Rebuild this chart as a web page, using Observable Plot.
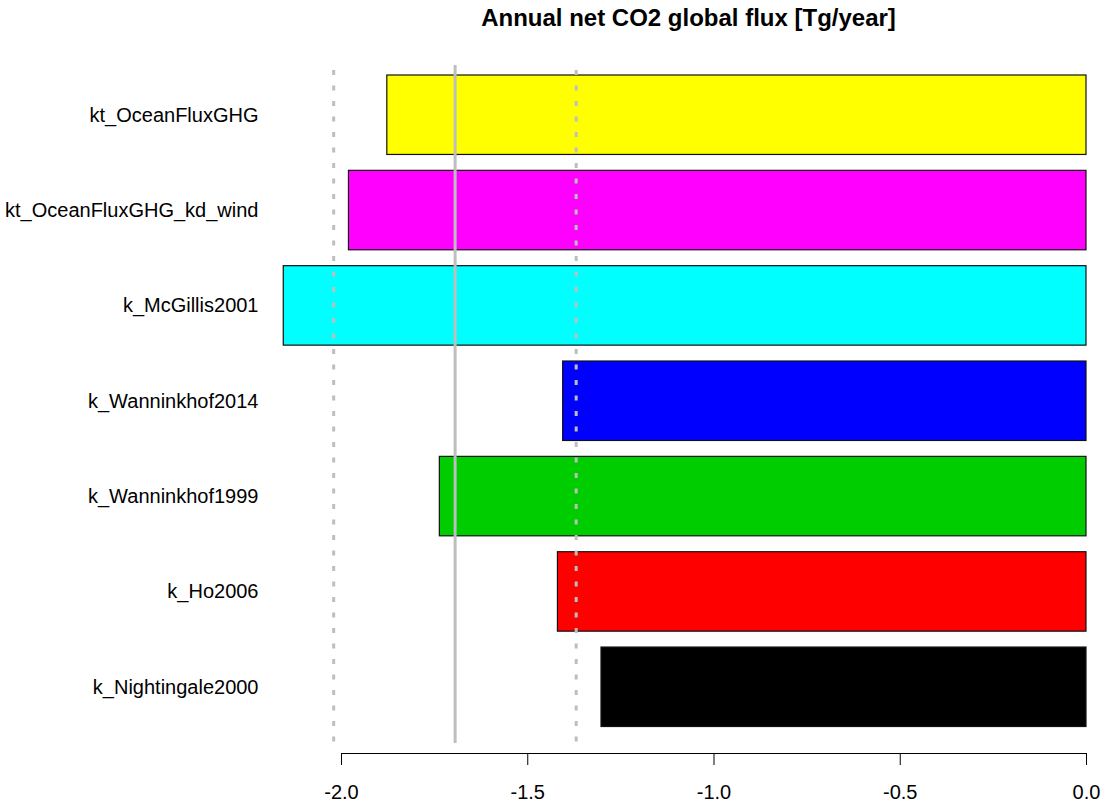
<!DOCTYPE html>
<html><head><meta charset="utf-8">
<script src="https://cdn.jsdelivr.net/npm/d3@7"></script>
<script src="https://cdn.jsdelivr.net/npm/@observablehq/plot@0.6"></script>
<style>
html,body{margin:0;padding:0;background:#fff;}
#wrap{position:relative;width:1105px;height:810px;font-family:"Liberation Sans",Arial,sans-serif;}
#title{position:absolute;left:272px;width:833px;top:6px;text-align:center;font-weight:bold;font-size:24px;line-height:24px;color:#000;}
#chart{position:absolute;left:0;top:0;}
</style></head><body>
<div id="wrap"><div id="chart"></div><div id="title">Annual net CO2 global flux [Tg/year]</div></div>
<script>
const names = ["kt_OceanFluxGHG", "kt_OceanFluxGHG_kd_wind", "k_McGillis2001", "k_Wanninkhof2014", "k_Wanninkhof1999", "k_Ho2006", "k_Nightingale2000"];
const values = [-1.877, -1.980, -2.155, -1.405, -1.736, -1.419, -1.302];
const barColors = ["#FFFF00", "#FF00FF", "#00FFFF", "#0000FF", "#00CD00", "#FF0000", "#000000"];
const meanValue = -1.695;
const sdBounds = [-2.021, -1.370];
const xTicks = [-2, -1.5, -1, -0.5, 0];
const xTickLabels = ["-2.0", "-1.5", "-1.0", "-0.5", "0.0"];

const data = names.map((name, i) => ({name, value: values[i]}));

const chart = Plot.plot({
  width: 1105,
  height: 810,
  marginTop: 65,
  marginBottom: 57,
  marginLeft: 341,
  marginRight: 19,
  style: {fontFamily: "'Liberation Sans', Arial, sans-serif", fontSize: "20px", color: "#000", background: "#fff"},
  x: {domain: [-2, 0], ticks: xTicks, tickFormat: d => xTickLabels[xTicks.indexOf(d)], tickSize: 12, tickPadding: 19, line: true, label: null},
  y: {domain: names, range: [75, 726.5], paddingInner: 1/6, paddingOuter: 0, round: false, tickSize: 0, tickPadding: 83, label: null},
  color: {domain: names, range: barColors},
  marks: [
    Plot.barX(data, {x1: "value", x2: 0, y: "name", fill: "name", stroke: "#111", strokeWidth: 1.2}),
    Plot.ruleX([meanValue], {stroke: "#BEBEBE", strokeWidth: 3, insetBottom: 10}),
    Plot.ruleX(sdBounds, {stroke: "#BEBEBE", strokeWidth: 3, strokeDasharray: "5,10.5", strokeDashoffset: 10.5, insetBottom: 10})
  ]
});
document.getElementById("chart").appendChild(chart);
</script>
</body></html>
